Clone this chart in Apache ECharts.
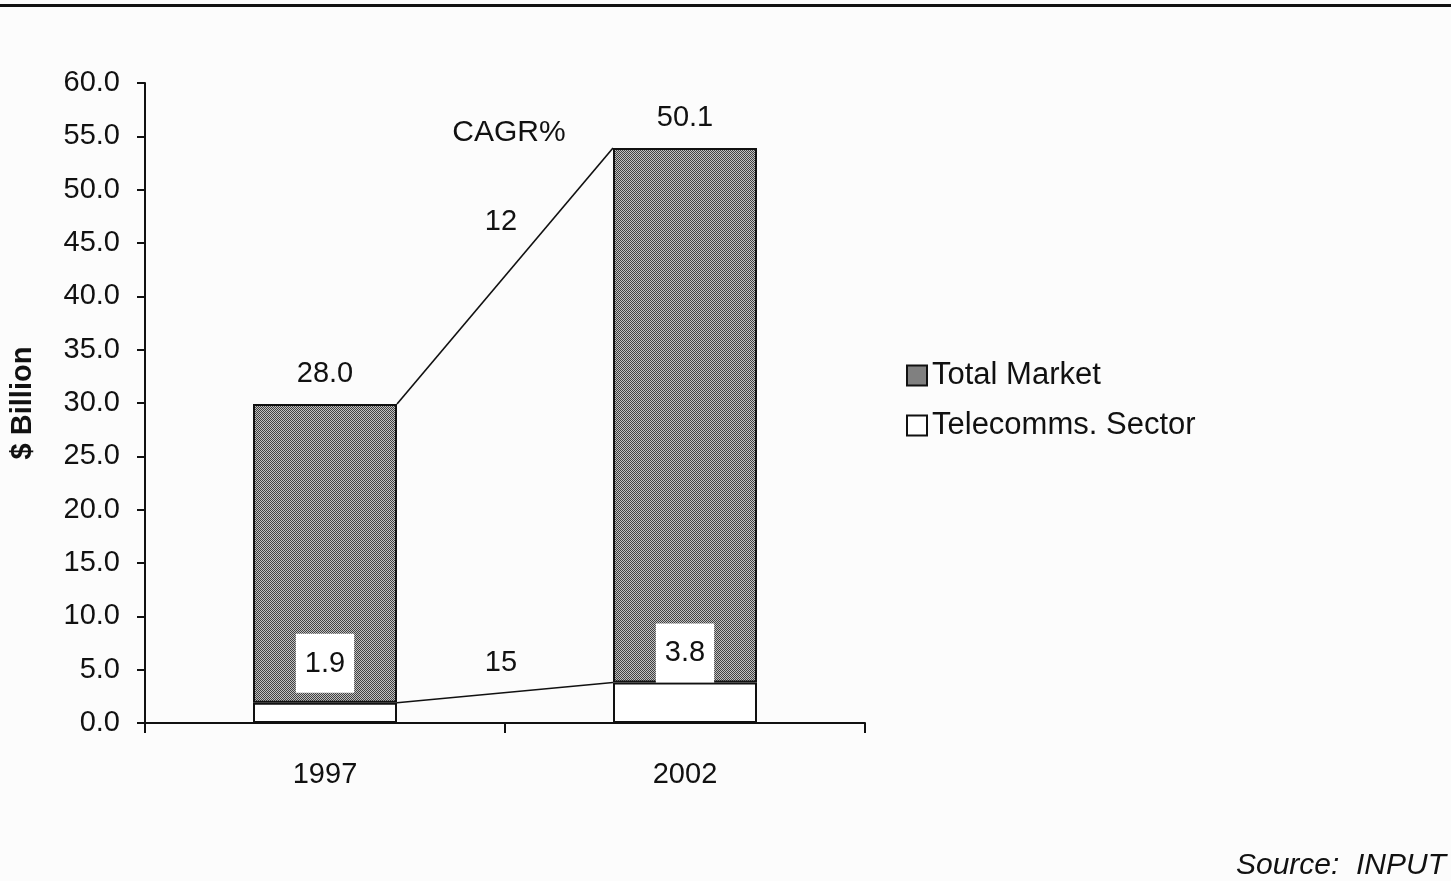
<!DOCTYPE html>
<html>
<head>
<meta charset="utf-8">
<script src="https://cdn.jsdelivr.net/npm/echarts@6/dist/echarts.min.js"></script>
<style>
  html, body { margin: 0; padding: 0; background: #fcfcfc; }
  #chart { width: 1451px; height: 881px; }
</style>
</head>
<body>
<div id="chart"></div>
<script>
// Market size, $ billion
const years = ['1997', '2002'];
const telecomms = [1.9, 3.8];
const totalMarket = [28.0, 50.1];
const cagrTotal = '12';
const cagrTelecomms = '15';
const yTicks = { min: 0, max: 60, interval: 5 };

const FONT = '"Liberation Sans", Arial, Helvetica, sans-serif';

// Dithered grey fill for the total-market segments
function ditherPattern() {
  const c = document.createElement('canvas');
  c.width = 2; c.height = 2;
  const ctx = c.getContext('2d');
  ctx.fillStyle = '#c0c0c0'; ctx.fillRect(0, 0, 2, 2);
  ctx.fillStyle = '#404040';
  ctx.fillRect(0, 0, 1, 1);
  ctx.fillRect(1, 1, 1, 1);
  return c;
}
const greyFill = { image: ditherPattern(), repeat: 'repeat' };

const stackTops = totalMarket.map((v, i) => +(v + telecomms[i]).toFixed(2));
const BAR_RATIO = 0.4;

const chart = echarts.init(document.getElementById('chart'), null, { renderer: 'canvas' });

chart.setOption({
  backgroundColor: '#fcfcfc',
  animation: false,
  textStyle: { fontFamily: FONT },
  grid: { left: 145, right: 586, top: 83, bottom: 158, containLabel: false },
  legend: {
    orient: 'vertical',
    left: 901,
    top: 355,
    itemGap: 19,
    itemWidth: 20,
    itemHeight: 20,
    icon: 'rect',
    textStyle: { fontFamily: FONT, fontSize: 31, color: '#111', padding: [0, 0, 0, 0] },
    data: [
      { name: 'Total Market', itemStyle: { color: greyFill, borderColor: '#111', borderWidth: 2 } },
      { name: 'Telecomms. Sector', itemStyle: { color: '#fff', borderColor: '#111', borderWidth: 2 } }
    ]
  },
  xAxis: {
    type: 'category',
    data: years,
    boundaryGap: true,
    axisLine: { lineStyle: { color: '#111', width: 2 } },
    axisTick: { show: true, length: 10, lineStyle: { color: '#111', width: 2 } },
    axisLabel: { fontFamily: FONT, fontSize: 29, color: '#111', margin: 37 },
    splitLine: { show: false }
  },
  yAxis: {
    type: 'value',
    min: yTicks.min,
    max: yTicks.max,
    interval: yTicks.interval,
    name: '$ Billion',
    nameLocation: 'middle',
    nameGap: 108,
    nameRotate: 90,
    nameTextStyle: { fontFamily: FONT, fontSize: 29, fontWeight: 'bold', color: '#111' },
    axisLine: { show: true, lineStyle: { color: '#111', width: 2 } },
    axisTick: { show: true, length: 8, lineStyle: { color: '#111', width: 2 } },
    axisLabel: { fontFamily: FONT, fontSize: 29, color: '#111', margin: 25,
                 formatter: v => v.toFixed(1) },
    splitLine: { show: false }
  },
  series: [
    {
      name: 'Telecomms. Sector',
      type: 'bar',
      stack: 'market',
      barWidth: (BAR_RATIO * 100) + '%',
      itemStyle: { color: '#fff', borderColor: '#111', borderWidth: 2 },
      data: telecomms.map((v, i) => ({
        value: v,
        label: { distance: i === 0 ? 10 : 0 }
      })),
      label: {
        show: true,
        position: 'top',
        formatter: p => p.value.toFixed(1),
        fontFamily: FONT,
        fontSize: 29,
        color: '#111',
        backgroundColor: '#fff',
        padding: [15, 9, 14, 9],
        lineHeight: 30
      },
      z: 3
    },
    {
      name: 'Total Market',
      type: 'bar',
      stack: 'market',
      barWidth: (BAR_RATIO * 100) + '%',
      itemStyle: { color: greyFill, borderColor: '#111', borderWidth: 2 },
      data: totalMarket,
      label: {
        show: true,
        position: 'top',
        distance: 16,
        formatter: p => p.value.toFixed(1),
        fontFamily: FONT,
        fontSize: 29,
        color: '#111'
      },
      z: 2
    },
    {
      // Growth connectors between the bar edges with CAGR annotations
      name: 'cagr',
      type: 'custom',
      coordinateSystem: 'cartesian2d',
      silent: true,
      z: 4,
      data: [
        [0, stackTops[0], 1, stackTops[1], cagrTotal, 54, 'CAGR%'],
        [0, telecomms[0], 1, telecomms[1], cagrTelecomms, 30, '']
      ],
      renderItem: function (params, api) {
        const half = api.size([1, 0])[0] * BAR_RATIO / 2;
        const p0 = api.coord([api.value(0), api.value(1)]);
        const p1 = api.coord([api.value(2), api.value(3)]);
        const x0 = p0[0] + half, x1 = p1[0] - half;
        const mx = (x0 + x1) / 2, my = (p0[1] + p1[1]) / 2;
        const children = [
          { type: 'line', shape: { x1: x0, y1: p0[1], x2: x1, y2: p1[1] },
            style: { stroke: '#111', lineWidth: 1.6 } },
          { type: 'text', x: mx - 4, y: my - api.value(5),
            style: { text: String(api.value(4)), font: '29px ' + FONT, fill: '#111',
                     align: 'center', verticalAlign: 'middle' } }
        ];
        const title = api.value(6);
        if (title) {
          children.push({ type: 'text', x: mx + 4, y: p1[1] - 15,
            style: { text: title, font: '30px ' + FONT, fill: '#111',
                     align: 'center', verticalAlign: 'middle' } });
        }
        return { type: 'group', children: children };
      }
    }
  ],
  graphic: [
    { type: 'rect', left: 0, top: 4, shape: { width: 1451, height: 3 }, style: { fill: '#111' } },
    { type: 'text', right: 5, top: 851,
      style: { text: 'Source:  INPUT', font: 'italic 30px ' + FONT, fill: '#111' } }
  ]
});
</script>
</body>
</html>
